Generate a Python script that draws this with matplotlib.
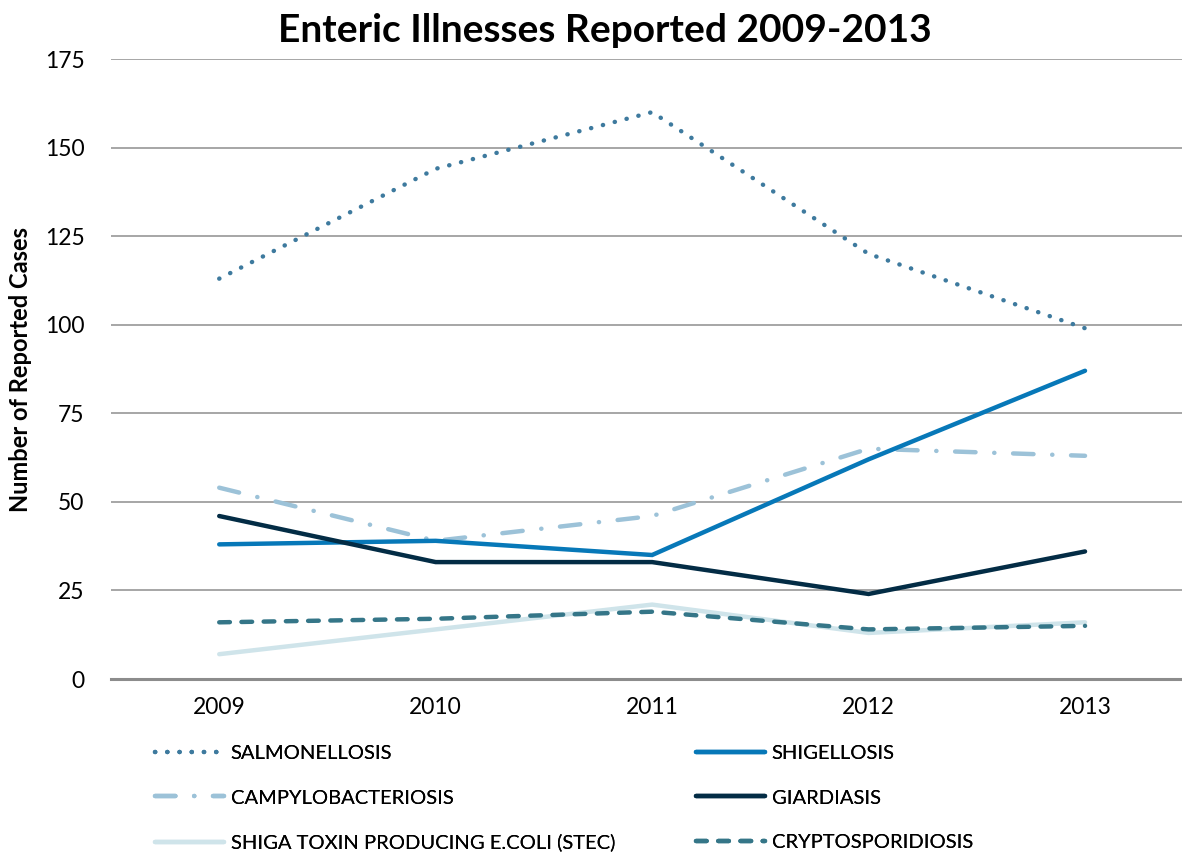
import matplotlib
matplotlib.use("Agg")
import matplotlib.pyplot as plt

plt.rcParams['font.family'] = ['Lato', 'DejaVu Sans']

years = ["2009", "2010", "2011", "2012", "2013"]
salmonellosis = [113, 144, 160, 120, 99]
shigellosis = [38, 39, 35, 62, 87]
campylobacteriosis = [54, 39, 46, 65, 63]
giardiasis = [46, 33, 33, 24, 36]
stec = [7, 14, 21, 13, 16]
cryptosporidiosis = [16, 17, 19, 14, 15]

W, H = 1182, 855
fig = plt.figure(figsize=(W / 100, H / 100), dpi=100)
ax = fig.add_axes([111 / W, 1 - 679 / H, 1 - 111 / W, (679 - 59) / H])

x = list(range(len(years)))
lw = 3.2
series = [
    ("SALMONELLOSIS", salmonellosis, "#3e7a9e", (0, (0.05, 2.7)), 2),
    ("SHIGELLOSIS", shigellosis, "#0778b8", "-", 4),
    ("CAMPYLOBACTERIOSIS", campylobacteriosis, "#9cc2d8", (0, (4.6, 4.2, 0.05, 4.2)), 3),
    ("GIARDIASIS", giardiasis, "#032c45", "-", 5),
    ("SHIGA TOXIN PRODUCING E.COLI (STEC)", stec, "#cfe4ea", "-", 1),
    ("CRYPTOSPORIDIOSIS", cryptosporidiosis, "#357688", (0, (2.4, 2.6)), 6),
]

handles = {}
for name, vals, color, ls, z in series:
    ln, = ax.plot(x, vals, color=color, lw=lw, linestyle=ls,
                  dash_capstyle="round", solid_capstyle="round",
                  solid_joinstyle="miter", zorder=z, label=name)
    handles[name] = ln

ax.set_xlim(-0.5, (W - 219) / 216.5)
ax.set_ylim(0, 175)
ax.set_yticks(range(0, 176, 25))
ax.set_xticks(x)
ax.set_xticklabels(years)
ax.yaxis.grid(True, color="#a6a6a6", lw=1.4, zorder=0)
ax.set_axisbelow(True)
for s in ("top", "right", "left"):
    ax.spines[s].set_visible(False)
ax.spines["bottom"].set_color("#8c8c8c")
ax.spines["bottom"].set_linewidth(2.2)
ax.tick_params(axis="both", length=0, labelsize=16.5, colors="black")
ax.tick_params(axis="x", pad=13)
ax.tick_params(axis="y", pad=19)

ax.set_ylabel("Number of Reported Cases", fontsize=17, fontweight="bold")
ax.yaxis.set_label_coords((32 - 111) / 1071, 0.5)
fig.text(605 / W, 1 - 30 / H, "Enteric Illnesses Reported 2009-2013",
         ha="center", va="center", fontsize=28, fontweight="bold")

columns = [
    (["SALMONELLOSIS", "CAMPYLOBACTERIOSIS", "SHIGA TOXIN PRODUCING E.COLI (STEC)"], 137),
    (["SHIGELLOSIS", "GIARDIASIS", "CRYPTOSPORIDIOSIS"], 678),
]
for names, left in columns:
    leg = fig.legend([handles[n] for n in names], names, ncol=1,
                     loc="upper left", bbox_to_anchor=(left / W, 1 - 727 / H),
                     frameon=False, fontsize=14.5, handlelength=3.4,
                     handletextpad=0.35, labelspacing=1.35)
    fig.add_artist(leg)

fig.savefig("out.png", dpi=100)
